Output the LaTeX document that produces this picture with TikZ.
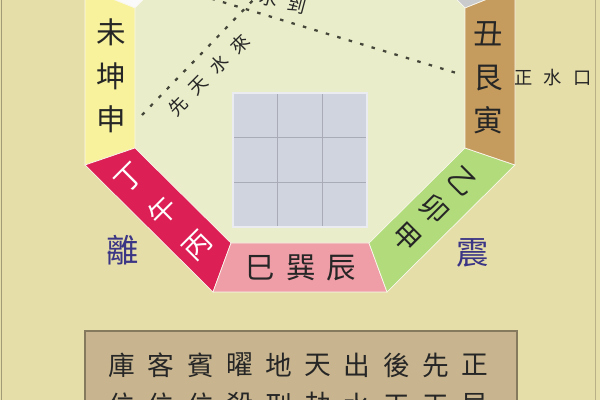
\documentclass[tikz,border=0pt]{standalone}
\usepackage{fontspec}
\setmainfont{Noto Sans CJK TC}
\usepackage{tikz}
\usepackage{xcolor}
\definecolor{bgbeige}{HTML}{E6DEA9}
\definecolor{innercream}{HTML}{E9EDC9}
\definecolor{lired}{HTML}{DC1F55}
\definecolor{xunpink}{HTML}{EF9DA6}
\definecolor{zhengreen}{HTML}{B2DB7B}
\definecolor{genbrown}{HTML}{C59C5E}
\definecolor{kunyellow}{HTML}{F8F29C}
\definecolor{qiangray}{HTML}{C9CBCD}
\definecolor{panelfill}{HTML}{C8B58F}
\definecolor{panelrim}{HTML}{857A5E}
\definecolor{gridfill}{HTML}{D0D4DF}
\definecolor{gridgray}{HTML}{A9ACB6}
\definecolor{guaink}{HTML}{3B3585}
\definecolor{dotgray}{HTML}{45463A}

\begin{document}
\begin{tikzpicture}
\tikzstyle{seg}=[draw=white!80!bgbeige, line width=0.5pt]
\tikzstyle{zhi}=[inner sep=0pt, align=center, text=black!85, font=\fontsize{21}{31}\selectfont]
\tikzstyle{gua}=[inner sep=0pt, text=guaink, font=\fontsize{23}{23}\selectfont]
\tikzstyle{note}=[inner sep=0pt, text=black!85, font=\fontsize{13}{13}\selectfont]
\tikzset{dotline/.style={draw=dotgray, line width=1.6pt, dash pattern=on 2.5pt off 6pt}}

\useasboundingbox (0,0) rectangle (15,10);
\fill[bgbeige] (0,0) rectangle (15,10);
\draw[bgbeige!70!black, line width=0.8pt] (0.04,0) -- (0.04,10);
\draw[bgbeige!80!black, line width=0.8pt] (14.88,0) -- (14.88,10);

% outer and inner corners of the ring
\coordinate (A) at (2.125,10.3);
\coordinate (B) at (2.125,5.875);
\coordinate (C) at (5.325,2.7);
\coordinate (D) at (9.675,2.7);
\coordinate (E) at (12.875,5.875);
\coordinate (F) at (12.875,10.3);
\coordinate (G) at (9.675,13.475);
\coordinate (H) at (5.325,13.475);
\coordinate (a) at (3.375,9.8);
\coordinate (b) at (3.375,6.3);
\coordinate (c) at (5.775,3.925);
\coordinate (d) at (9.225,3.925);
\coordinate (e) at (11.625,6.3);
\coordinate (f) at (11.625,9.8);
\coordinate (g) at (9.225,12.2);
\coordinate (h) at (5.775,12.2);

\fill[innercream] (a) -- (b) -- (c) -- (d) -- (e) -- (f) -- (g) -- (h) -- cycle;
\filldraw[seg, fill=white!90!qiangray] (A) -- (H) -- (h) -- (a) -- cycle;
\filldraw[seg, fill=qiangray] (F) -- (f) -- (g) -- (G) -- cycle;
\filldraw[seg, fill=kunyellow] (A) -- (B) -- (b) -- (a) -- cycle;
\filldraw[seg, fill=lired] (B) -- (C) -- (c) -- (b) -- cycle;
\filldraw[seg, fill=xunpink] (C) -- (D) -- (d) -- (c) -- cycle;
\filldraw[seg, fill=zhengreen] (D) -- (E) -- (e) -- (d) -- cycle;
\filldraw[seg, fill=genbrown] (E) -- (F) -- (f) -- (e) -- cycle;

% nine palaces
\fill[gridfill] (5.825,4.325) rectangle (9.175,7.675);
\draw[gridgray, line width=0.9pt, shift={(5.825,4.325)}, step=1.11667] (0,0) grid (3.351,3.351);
\draw[white!55!gridfill, line width=1.2pt] (5.825,4.325) rectangle (9.175,7.675);

\node[zhi](kun) at (2.775,8.1){未\\坤\\申};
\node[zhi](gen) at (12.2,8.05){丑\\艮\\寅};
\node[zhi](xun) at (7.525,3.3){巳\hspace{8pt}巽\hspace{8pt}辰};
\node[zhi, text=white, rotate=45, font=\fontsize{20}{34}\selectfont](wu) at (4.09,4.7){丁\\午\\丙};
\node[zhi, rotate=-45, font=\fontsize{20}{28}\selectfont](mao) at (10.85,4.75){乙\\卯\\甲};
\node[gua](li) at (3.075,3.75){離};
\node[gua](zhen) at (11.825,3.675){震};

% water lines
\coordinate (xt0) at (3.55,7.125);
\coordinate (xt1) at (6.45,10.125);
\coordinate (ht0) at (5.0,10.12);
\coordinate (ht1) at (11.575,8.125);
\draw[dotline] (xt0) -- (xt1);
\draw[dotline] (ht0) -- (ht1);
\node[note, rotate=45](xtls) at (5.225,8.125){先\hspace{8pt}天\hspace{8pt}水\hspace{8pt}來};
\node[note, rotate=-15](htsd) at (7.075,9.96){水\hspace{8pt}到};
\node[note](zsk) at (13.825,8.05){正\hspace{8pt}水\hspace{8pt}口};

% table of positions
\filldraw[fill=panelfill, draw=panelrim, line width=1.4pt] (2.125,1.725) rectangle (12.925,-1);
\tikzstyle{col}=[inner sep=0pt, align=center, text=black!85, font=\fontsize{19}{28.45}\selectfont]
\node[col](p1) at (3.05,0.375){庫\\位};
\node[col](p2) at (4.03,0.375){客\\位};
\node[col](p3) at (5.01,0.375){賓\\位};
\node[col](p4) at (5.99,0.375){曜\\殺};
\node[col](p5) at (6.97,0.375){地\\刑};
\node[col](p6) at (7.95,0.375){天\\劫};
\node[col](p7) at (8.93,0.375){出\\水};
\node[col](p8) at (9.91,0.375){後\\天};
\node[col](p9) at (10.89,0.375){先\\天};
\node[col](p10) at (11.87,0.375){正\\局};
\end{tikzpicture}
\end{document}
